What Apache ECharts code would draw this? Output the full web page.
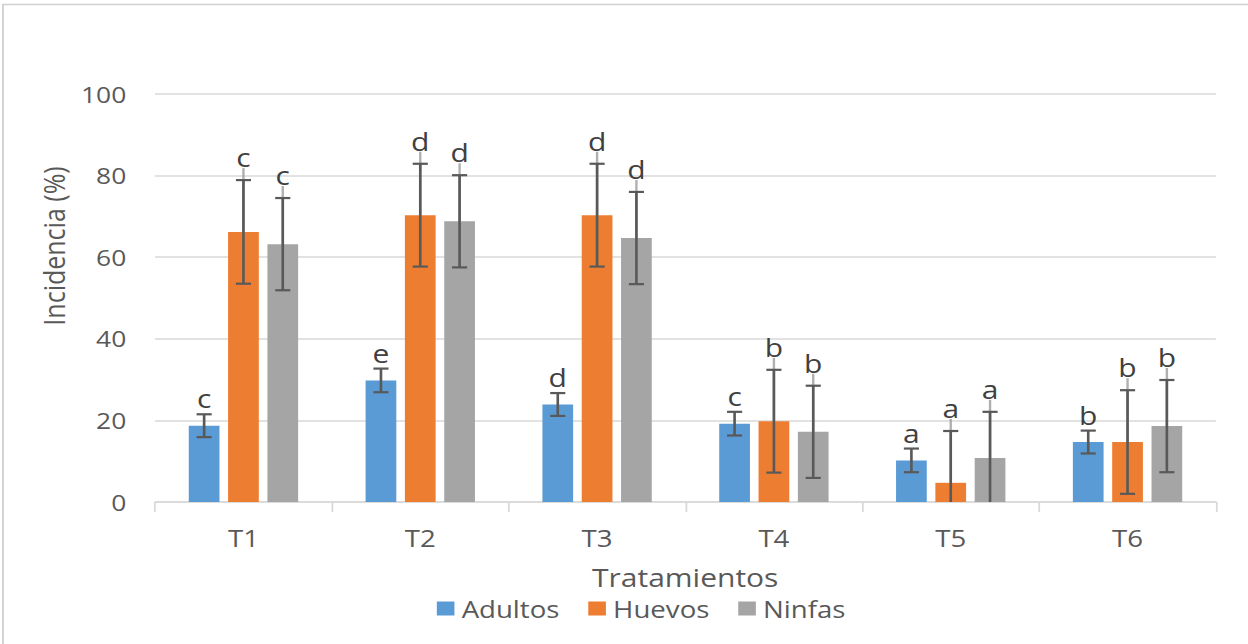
<!DOCTYPE html>
<html>
<head>
<meta charset="utf-8">
<title>Incidencia por tratamiento</title>
<script src="https://cdn.jsdelivr.net/npm/echarts@6/dist/echarts.min.js"></script>
<style>
  html, body { margin: 0; padding: 0; background: #fff; overflow: hidden; }
  #wrap { width: 1248px; height: 644px; overflow: hidden; }
  /* the chart is laid out on a narrower canvas and widened horizontally */
  #chart { width: 1040px; height: 644px; transform: scaleX(1.2); transform-origin: 0 0; }
</style>
</head>
<body>
<div id="wrap"><div id="chart"></div></div>
<script>
// ---- data ----
const categories = ['T1', 'T2', 'T3', 'T4', 'T5', 'T6'];
const seriesNames = ['Adultos', 'Huevos', 'Ninfas'];

const adultos = [18.7, 29.8, 23.9, 19.2, 10.2, 14.7];
const huevos  = [66.2, 70.3, 70.3, 19.8, 4.7, 14.7];
const ninfas  = [63.2, 68.8, 64.7, 17.2, 10.8, 18.6];

const adultosErr = [2.8, 2.9, 2.8, 2.9, 2.9, 2.8];
const huevosErr  = [12.7, 12.6, 12.6, 12.6, 12.7, 12.7];
const ninfasErr  = [11.3, 11.3, 11.3, 11.3, 11.3, 11.3];

const adultosLetters = ['c', 'e', 'd', 'c', 'a', 'b'];
const huevosLetters  = ['c', 'd', 'd', 'b', 'a', 'b'];
const ninfasLetters  = ['c', 'd', 'd', 'b', 'a', 'b'];

const yMin = 0, yMax = 100, yStep = 20;
const xTitle = 'Tratamientos';
const yTitle = 'Incidencia (%)';

// ---- styling ----
const FONT = '"Open Sans", "Noto Sans", sans-serif';
const colors = ['#5B9BD5', '#ED7D31', '#A5A5A5'];
const textGray = '#595959';
const gridGray = '#D9D9D9';
const barW = 25.6;
const gapRatio = 0.28;
const labelLift = [16, 23, 23];   // px from error cap to letter centre
const capHalf = 6.3;

const values = [adultos, huevos, ninfas];
const errors = [adultosErr, huevosErr, ninfasErr];
const letters = [adultosLetters, huevosLetters, ninfasLetters];

function barSeries(k) {
  const s = {
    name: seriesNames[k],
    type: 'bar',
    data: values[k],
    barWidth: barW,
    itemStyle: { color: colors[k] },
    silent: true,
    z: 2
  };
  if (k === 0) s.barGap = (gapRatio * 100) + '%';
  return s;
}

function errorSeries(k) {
  const vals = values[k], errs = errors[k], lets = letters[k];
  return {
    type: 'custom',
    silent: true,
    z: 5,
    data: vals.map((v, i) => [i, v]),
    encode: { x: 0, y: 1 },
    renderItem: function (params, api) {
      const i = params.dataIndex;
      const v = vals[i], e = errs[i];
      const cx = api.coord([i, 0])[0] + (k - 1) * barW * (1 + gapRatio);
      const yBar = api.coord([i, v])[1];
      const yTop = api.coord([i, v + e])[1];
      const lo = v - e;
      const yBot = api.coord([i, Math.max(yMin, lo)])[1];
      const ly = yTop - labelLift[k];
      const ls = { stroke: '#595959', lineWidth: 2.2 };
      const children = [];
      if (k > 0) {
        // leader from the letter down to the bar top
        children.push({
          type: 'line',
          shape: { x1: cx, y1: ly + 11, x2: cx, y2: yBar },
          style: { stroke: 'rgba(150,150,150,0.75)', lineWidth: 2 }
        });
      }
      children.push({ type: 'line', shape: { x1: cx, y1: yTop, x2: cx, y2: yBot }, style: ls });
      children.push({ type: 'line', shape: { x1: cx - capHalf, y1: yTop, x2: cx + capHalf, y2: yTop }, style: ls });
      if (lo > yMin) {
        children.push({ type: 'line', shape: { x1: cx - capHalf, y1: yBot, x2: cx + capHalf, y2: yBot }, style: ls });
      }
      children.push({
        type: 'text',
        style: {
          text: lets[i], x: cx, y: ly,
          align: 'center', verticalAlign: 'middle',
          fill: '#404040', fontSize: 25, lineHeight: 25, fontFamily: FONT
        }
      });
      return { type: 'group', children: children };
    }
  };
}

const chart = echarts.init(document.getElementById('chart'), null, { renderer: 'svg' });

chart.setOption({
  animation: false,
  backgroundColor: '#ffffff',
  textStyle: { fontFamily: FONT },
  grid: { left: 129.2, right: 26.7, top: 94, bottom: 142 },
  legend: {
    data: seriesNames,
    left: 364,
    top: 597,
    padding: 0,
    itemWidth: 14.7,
    itemHeight: 14,
    itemGap: 24,
    icon: 'rect',
    selectedMode: false,
    textStyle: { fontSize: 23, lineHeight: 23, color: textGray, fontFamily: FONT, padding: [0, 0, 0, 1] }
  },
  xAxis: {
    type: 'category',
    data: categories,
    axisLine: { lineStyle: { color: gridGray, width: 1.5 } },
    axisTick: { show: true, length: 10, lineStyle: { color: gridGray, width: 1.5 } },
    axisLabel: { fontSize: 23, color: textGray, margin: 24, fontFamily: FONT },
    splitLine: { show: false }
  },
  yAxis: {
    type: 'value',
    min: yMin, max: yMax, interval: yStep,
    axisLine: { show: false },
    axisTick: { show: false },
    splitLine: { lineStyle: { color: gridGray, width: 1.5 } },
    axisLabel: { fontSize: 22, color: textGray, margin: 24, fontFamily: FONT }
  },
  graphic: [
    {
      type: 'rect',
      shape: { x: 2.5, y: 4.5, width: 1100, height: 700 },
      style: { fill: 'none', stroke: '#D0D0D0', lineWidth: 1.5 },
      silent: true, z: -10
    },
    {
      type: 'text',
      x: 44, y: 246,
      rotation: Math.PI / 2,
      style: {
        text: yTitle, fontSize: 25, lineHeight: 25, fill: textGray, fontFamily: FONT,
        align: 'center', verticalAlign: 'middle'
      },
      silent: true
    },
    {
      type: 'text',
      x: 571, y: 577,
      style: {
        text: xTitle, fontSize: 25, lineHeight: 24, fill: textGray, fontFamily: FONT,
        align: 'center', verticalAlign: 'middle'
      },
      silent: true
    }
  ],
  series: [0, 1, 2].map(barSeries).concat([0, 1, 2].map(errorSeries))
});
</script>
</body>
</html>
